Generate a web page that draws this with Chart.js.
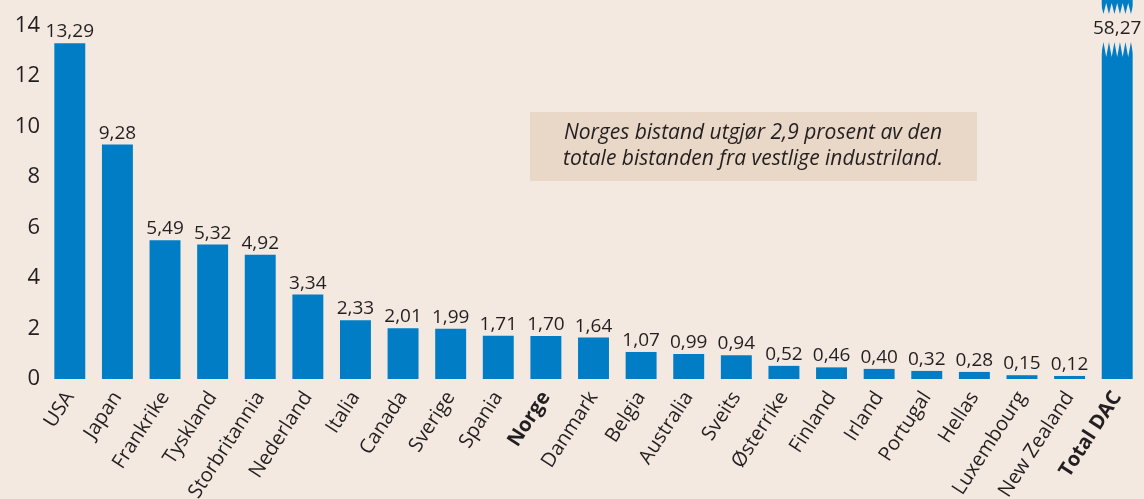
<!DOCTYPE html>
<html>
<head>
<meta charset="utf-8">
<script src="https://cdn.jsdelivr.net/npm/chart.js@4.4.1/dist/chart.umd.min.js"></script>
<style>
  html, body { margin: 0; padding: 0; background: #f4e9e1; }
  #wrap { width: 1144px; height: 499px; position: relative; }
</style>
</head>
<body>
<div id="wrap"><canvas id="c" width="1144" height="499"></canvas></div>
<script>
const categories = ['USA','Japan','Frankrike','Tyskland','Storbritannia','Nederland','Italia','Canada','Sverige','Spania','Norge','Danmark','Belgia','Australia','Sveits','Østerrike','Finland','Irland','Portugal','Hellas','Luxembourg','New Zealand','Total DAC'];
const values = [13.29, 9.28, 5.49, 5.32, 4.92, 3.34, 2.33, 2.01, 1.99, 1.71, 1.70, 1.64, 1.07, 0.99, 0.94, 0.52, 0.46, 0.40, 0.32, 0.28, 0.15, 0.12, 58.27];
const yTicks = [0, 2, 4, 6, 8, 10, 12, 14];
const boldLabels = ['Norge', 'Total DAC'];
const noteLines = ['Norges bistand utgjør 2,9 prosent av den', 'totale bistanden fra vestlige industriland.'];

const BG = '#f4e9e1';
const BLUE = '#007dc5';
const TEXT = '#231f20';
const FONT = "'Open Sans', 'DejaVu Sans', sans-serif";

const fmt = v => v.toFixed(2).replace('.', ',');

const bgPlugin = {
  id: 'bg',
  beforeDraw(chart) {
    const ctx = chart.ctx;
    ctx.save();
    ctx.fillStyle = BG;
    ctx.fillRect(0, 0, chart.width, chart.height);
    ctx.restore();
  }
};

const labelPlugin = {
  id: 'labels',
  afterDatasetsDraw(chart) {
    const ctx = chart.ctx;
    const meta = chart.getDatasetMeta(0);
    const last = meta.data.length - 1;
    ctx.save();
    // break in the tall bar
    const bar = meta.data[last];
    const x0 = bar.x - bar.width / 2 - 1, x1 = bar.x + bar.width / 2 + 1;
    const n = 6;
    const step = (x1 - x0) / n;
    ctx.fillStyle = BG;
    ctx.beginPath();
    ctx.moveTo(x0, 3);
    for (let i = 0; i <= n * 2; i++) {
      const x = x0 + i * step / 2;
      const y = (i % 2 === 1) ? 14 : 3;
      ctx.lineTo(x, y);
    }
    for (let i = n * 2; i >= 0; i--) {
      const x = x0 + i * step / 2;
      const y = (i % 2 === 1) ? 42 : 57;
      ctx.lineTo(x, y);
    }
    ctx.closePath();
    ctx.fill();

    ctx.fillStyle = TEXT;
    ctx.font = "19px " + FONT;
    ctx.textAlign = 'center';
    ctx.textBaseline = 'alphabetic';
    meta.data.forEach((el, i) => {
      if (i === last) {
        ctx.fillText(fmt(values[i]), el.x, 34);
      } else {
        ctx.fillText(fmt(values[i]), el.x, el.y - 6);
      }
    });

    // annotation box
    ctx.fillStyle = '#e9d7c7';
    ctx.fillRect(530, 112, 447, 69);
    ctx.fillStyle = TEXT;
    ctx.font = "italic 21px " + FONT;
    ctx.fillText(noteLines[0], 753, 139);
    ctx.fillText(noteLines[1], 753, 165);
    ctx.restore();
  }
};

new Chart(document.getElementById('c'), {
  type: 'bar',
  data: {
    labels: categories,
    datasets: [{
      data: values,
      backgroundColor: BLUE,
      categoryPercentage: 1,
      barPercentage: 0.65
    }]
  },
  options: {
    responsive: false,
    animation: false,
    devicePixelRatio: 1,
    layout: { padding: { top: 0, right: 3, bottom: 0, left: 0 } },
    plugins: { legend: { display: false }, tooltip: { enabled: false } },
    scales: {
      x: {
        grid: { display: false, drawTicks: false },
        border: { display: false },
        ticks: {
          autoSkip: false,
          maxRotation: 57,
          minRotation: 57,
          padding: 8,
          color: TEXT,
          font: (c) => ({
            family: FONT,
            size: 20,
            weight: (c.tick && boldLabels.includes(categories[c.index])) ? 'bold' : 'normal'
          })
        },
        afterFit(scale) {
          scale.height = 120;
          scale.paddingLeft = 0;
          scale.paddingRight = 0;
        }
      },
      y: {
        min: 0,
        max: 15,
        grid: { display: false, drawTicks: false },
        border: { display: false },
        afterBuildTicks(scale) {
          scale.ticks = yTicks.map(v => ({ value: v }));
        },
        ticks: {
          padding: 6,
          color: TEXT,
          font: { family: FONT, size: 22 }
        },
        afterFit(scale) {
          scale.width = 46;
          scale.paddingTop = 0;
          scale.paddingBottom = 0;
        }
      }
    }
  },
  plugins: [bgPlugin, labelPlugin]
});
</script>
</body>
</html>
